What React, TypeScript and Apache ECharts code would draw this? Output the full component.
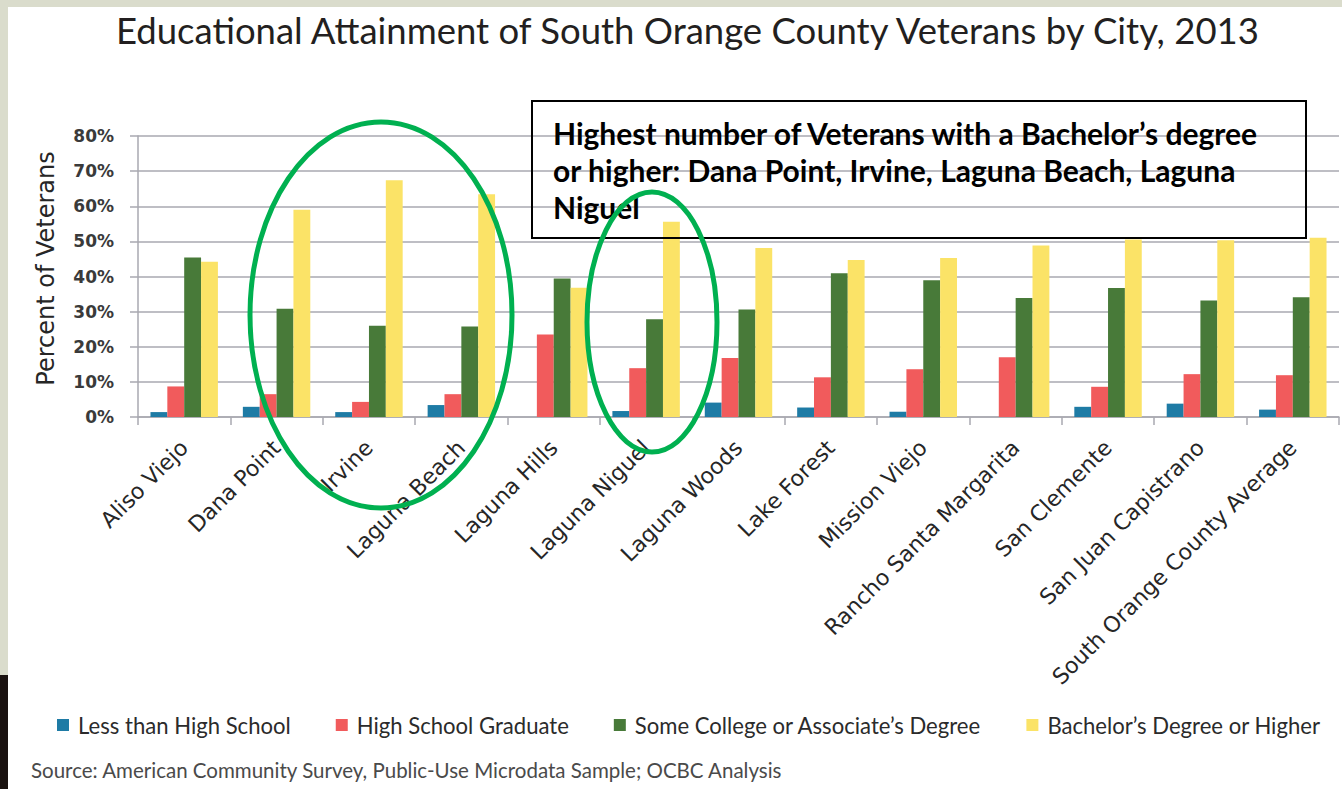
import React, { useEffect, useRef } from "react";
import * as echarts from "echarts";

const cities = [
  "Aliso Viejo",
  "Dana Point",
  "Irvine",
  "Laguna Beach",
  "Laguna Hills",
  "Laguna Niguel",
  "Laguna Woods",
  "Lake Forest",
  "Mission Viejo",
  "Rancho Santa Margarita",
  "San Clemente",
  "San Juan Capistrano",
  "South Orange County Average",
];

const lessThanHS = [1.4, 2.9, 1.4, 3.4, 0, 1.7, 4.1, 2.7, 1.5, 0, 2.9, 3.8, 2.1];
const hsGraduate = [8.7, 6.5, 4.3, 6.5, 23.5, 13.9, 16.8, 11.3, 13.6, 17.0, 8.6, 12.2, 11.9];
const someCollege = [45.4, 30.8, 26.0, 25.8, 39.4, 27.8, 30.6, 40.9, 38.9, 33.9, 36.7, 33.2, 34.1];
const bachelors = [44.2, 59.0, 67.4, 63.4, 36.8, 55.6, 48.1, 44.7, 45.3, 48.8, 50.5, 50.3, 51.0];

const seriesNames = [
  "Less than High School",
  "High School Graduate",
  "Some College or Associate\u2019s Degree",
  "Bachelor\u2019s Degree or Higher",
];
const seriesColors = ["#1e7ba5", "#f15b5c", "#487a39", "#fbe367"];

const titleText = "Educational Attainment of South Orange County Veterans by City, 2013";
const sourceText = "Source: American Community Survey, Public-Use Microdata Sample; OCBC Analysis";
const noteText =
  "Highest number of Veterans with a Bachelor\u2019s degree\nor higher: Dana Point, Irvine, Laguna Beach, Laguna\nNiguel";

export default function App() {
  const ref = useRef<HTMLDivElement>(null);
  useEffect(() => {
    document.body.style.margin = "0";
    const chart = echarts.init(ref.current!, null, { renderer: "svg" });
    const data = [lessThanHS, hsGraduate, someCollege, bachelors];
    chart.setOption({
      animation: false,
      backgroundColor: "#ffffff",
      textStyle: { fontFamily: "Lato" },
      title: [
        {
          text: titleText,
          left: 111,
          top: 6,
          textStyle: { fontFamily: "Lato", fontSize: 36.5, fontWeight: "normal", color: "#231f20" },
        },
        {
          text: sourceText,
          left: 26,
          top: 754,
          textStyle: { fontFamily: "Lato", fontSize: 20.5, fontWeight: "normal", color: "#4a4a4a" },
        },
      ],
      legend: {
        left: 52,
        top: 709,
        itemWidth: 12,
        itemHeight: 12,
        itemGap: 45,
        icon: "rect",
        textStyle: { fontFamily: "Lato", fontSize: 22.1, color: "#2b2b2b", padding: [0, 0, 0, 4] },
        data: seriesNames,
      },
      grid: { left: 138, right: 3, top: 136, bottom: 372 },
      xAxis: {
        type: "category",
        data: cities,
        axisLine: { lineStyle: { color: "#a9a9b0", width: 1.5 } },
        axisTick: { show: true, length: 8, lineStyle: { color: "#a9a9b0", width: 1.5 } },
        axisLabel: {
          rotate: 45,
          interval: 0,
          margin: 27,
          fontFamily: "DejaVu Sans",
          fontSize: 22,
          color: "#262626",
        },
      },
      yAxis: {
        type: "value",
        min: 0,
        max: 80,
        interval: 10,
        name: "Percent of Veterans",
        nameLocation: "middle",
        nameGap: 80,
        nameTextStyle: { fontFamily: "DejaVu Sans", fontSize: 24, color: "#262626", padding: [0, 0, 0, 16] },
        axisLine: { show: true, lineStyle: { color: "#a9a9b0", width: 1.5 } },
        axisTick: { show: true, length: 8, lineStyle: { color: "#a9a9b0", width: 1.5 } },
        splitLine: { lineStyle: { color: "#a9a9b0", width: 1.5 } },
        axisLabel: {
          formatter: "{value}%",
          margin: 24,
          fontFamily: "DejaVu Sans",
          fontWeight: "bold",
          fontSize: 17,
          color: "#3a3a3a",
        },
      },
      series: seriesNames.map((name, i) => ({
        name,
        type: "bar",
        data: data[i],
        barGap: "0%",
        barCategoryGap: "27%",
        itemStyle: { color: seriesColors[i] },
      })),
      graphic: [
        { type: "rect", shape: { x: 0, y: 0, width: 1342, height: 7 }, style: { fill: "#dadccc" }, z: 100 },
        { type: "rect", shape: { x: 0, y: 0, width: 8, height: 675 }, style: { fill: "#dadccc" }, z: 100 },
        { type: "rect", shape: { x: 0, y: 675, width: 8, height: 114 }, style: { fill: "#1a1210" }, z: 100 },
        {
          type: "rect",
          shape: { x: 532, y: 101, width: 774, height: 137 },
          style: { fill: "none", stroke: "#000000", lineWidth: 2 },
          z: 100,
        },
        {
          type: "text",
          x: 553,
          y: 114,
          style: {
            text: noteText,
            font: "bold 30px Lato",
            fill: "#000000",
            lineHeight: 37,
            verticalAlign: "top",
          },
          z: 101,
        },
        {
          type: "ellipse",
          shape: { cx: 381, cy: 315, rx: 131, ry: 193 },
          style: { fill: "none", stroke: "#00b050", lineWidth: 5 },
          z: 102,
        },
        {
          type: "ellipse",
          shape: { cx: 652, cy: 322, rx: 65, ry: 130 },
          style: { fill: "none", stroke: "#00b050", lineWidth: 5 },
          z: 102,
        },
      ],
    });
    return () => chart.dispose();
  }, []);
  return <div ref={ref} style={{ width: 1342, height: 789 }} />;
}
